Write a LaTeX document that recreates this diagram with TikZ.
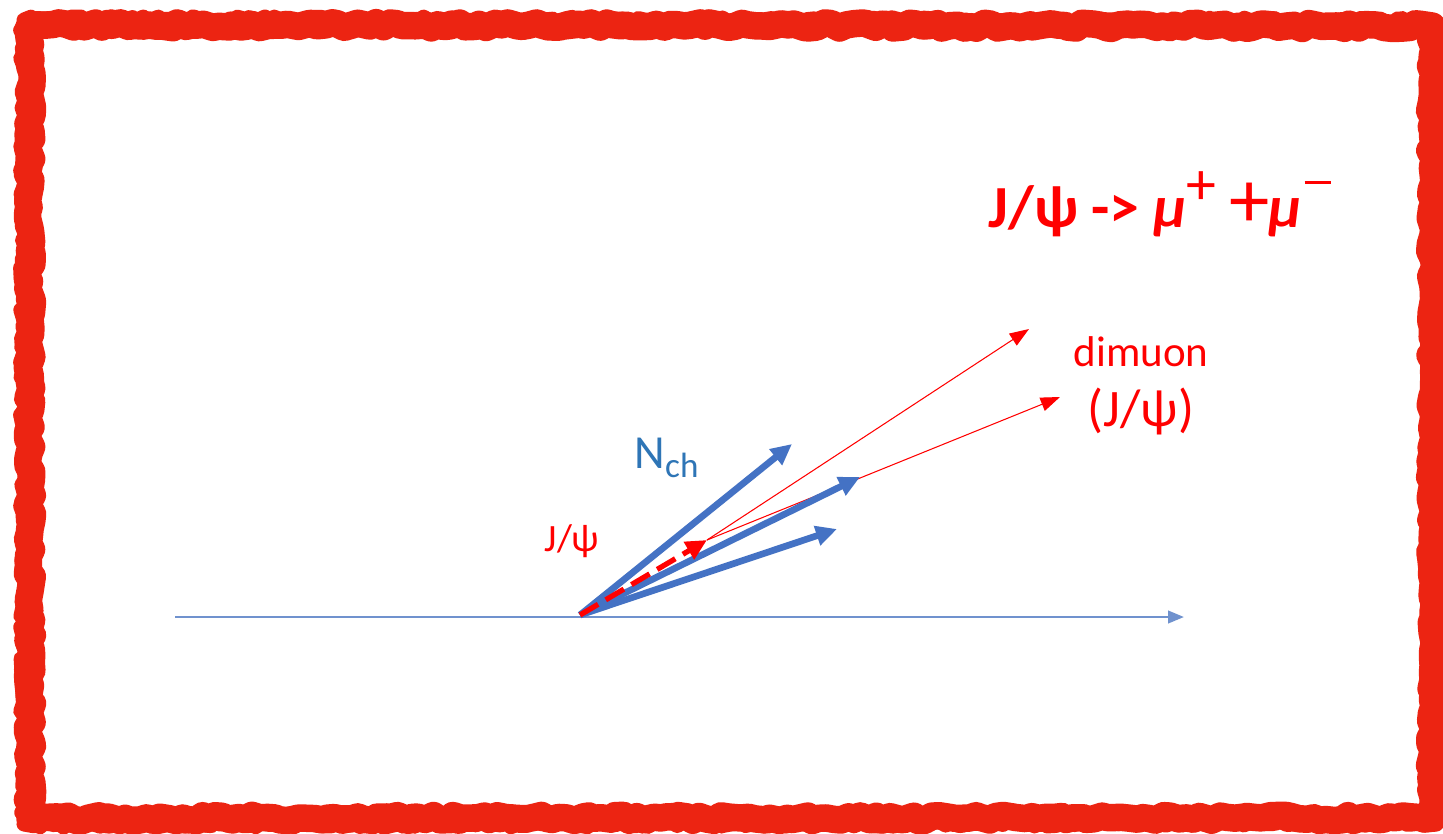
\documentclass[tikz,border=0pt]{standalone}
\usepackage{fontspec}
\setmainfont{Carlito}
\usetikzlibrary{arrows.meta,decorations.pathmorphing}
\definecolor{framered}{RGB}{236,36,18}
\definecolor{axisblue}{RGB}{112,146,206}
\definecolor{vecblue}{RGB}{68,114,196}
\definecolor{txtblue}{RGB}{46,117,182}
\definecolor{txtred}{RGB}{255,0,0}
\newcommand{\supsign}[1]{\raisebox{0.38em}{\mdseries #1}}
\newcommand{\supminus}{\kern0.05em\raisebox{0.72em}{\rule{0.45em}{0.055em}}}
\newcommand{\bigplus}{{\mdseries\fontsize{46}{48}\selectfont +}}
\tikzset{
  frame/.style={draw=framered, line width=0.55cm, line join=round, decorate, decoration={random steps, segment length=4pt, amplitude=1.5pt}},
  axis/.style={draw=axisblue, line width=1.5pt, -{Triangle[length=9pt,width=7pt]}},
  chvec/.style={draw=vecblue, line width=3.8pt, -{Triangle[length=12pt,width=11pt]}},
  muvec/.style={draw=txtred, line width=0.6pt, -{Triangle[length=11pt,width=8pt]}},
  jpsivec/.style={draw=txtred, line width=3pt, dash pattern=on 12pt off 5pt, -{Triangle[length=12pt,width=11pt]}},
  lbl/.style={text=txtred, inner sep=0pt}
}
\begin{document}
\begin{tikzpicture}[x=0.02cm,y=-0.02cm]
\useasboundingbox[fill=white] (0,0) rectangle (1443,833);
% frame
\path[frame] (30,25) -- (1432,26) -- (1432,818) -- (30,818) -- cycle;
\path[frame, line width=0.3cm, decoration={random steps, segment length=3pt, amplitude=2pt}] (24,20) -- (1436,22) -- (1438,822) -- (24,824) -- cycle;
% coordinates
\coordinate (axL) at (175,617);
\coordinate (axR) at (1184,617);
\coordinate (O) at (580,615);
\coordinate (b1) at (792,444);
\coordinate (b2) at (860,477);
\coordinate (b3) at (837,529);
\coordinate (J) at (707,540);
\coordinate (m1) at (1029,329);
\coordinate (m2) at (1060,397);
% axis
\draw[axis] (axL) -- (axR);
% muons
\draw[muvec] (J) -- (m1);
\draw[muvec] (J) -- (m2);
% charged particles
\draw[chvec] (O) -- (b1);
\draw[chvec] (O) -- (b2);
\draw[chvec] (O) -- (b3);
% J/psi
\draw[jpsivec] (O) -- (J);
% labels
\node[text=txtblue, inner sep=0pt, font=\fontsize{27}{30}\selectfont] (nch) at (667,458) {N\textsubscript{\fontsize{20}{22}\selectfont ch}};
\node[lbl, font=\fontsize{22}{24}\selectfont] (jl) at (572,541) {J/ψ};
\node[lbl, font=\fontsize{24.5}{28}\selectfont] (dm) at (1141,352) {dimuon};
\node[lbl, font=\fontsize{30}{34}\selectfont] (dj) at (1141,411) {(J/ψ)};
\node[lbl, font=\bfseries\fontsize{34}{38}\selectfont] (title) at (1160,204) {J/ψ -> \textit{μ}\supsign{+} \bigplus\kern-0.02em\textit{μ}\supminus};
\end{tikzpicture}
\end{document}
